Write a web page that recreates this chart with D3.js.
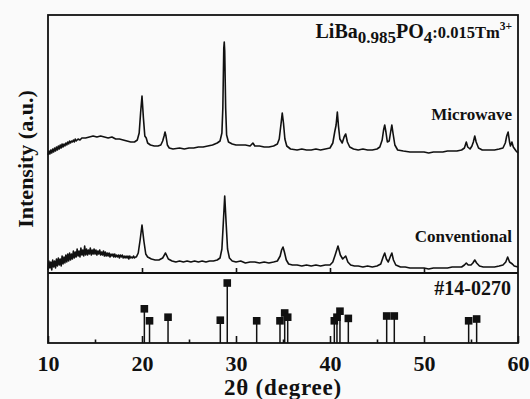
<!DOCTYPE html>
<html>
<head>
<meta charset="utf-8">
<script src="https://cdn.jsdelivr.net/npm/d3@7"></script>
<style>
  body { margin: 0; background: #fafafa; }
  svg { display: block; }
  text { font-family: "Liberation Serif", "Times New Roman", serif; font-weight: bold; fill: #111; }
</style>
</head>
<body>
<svg id="chart" width="530" height="399"></svg>
<script>
// 2θ (degree) / intensity (a.u., stacked offset)
const microwave = [
  [10.0,118],[10.1,122],[10.2,119],[10.3,123],[10.4,120],[10.5,124],[10.6,121],[10.7,125],[10.8,122],[10.9,126],
  [11.0,123],[11.1,127],[11.2,124],[11.3,128],[11.4,125],[11.5,129],[11.6,126],[11.7,129],[11.8,127],[11.9,130],
  [12.0,128],[12.1,131],[12.2,129],[12.3,132],[12.4,130],[12.5,132],[12.6,131],[12.7,133],[12.8,131],[12.9,134],
  [13.0,132],[13.2,134],[13.4,133],[13.6,135],[14.0,135],[14.4,136],
  [14.8,137],[15.2,136],[15.6,137],[16.0,136],[16.4,135],[16.8,136],[17.2,134],[17.6,134],[18.0,133],[18.4,132],
  [18.8,131],[19.2,131],[19.5,133],[19.7,140],[19.85,160],[20.0,177],[20.15,155],[20.3,137],[20.45,135],[20.6,130],
  [20.9,128],[21.3,127],[21.7,127],[22.0,128],[22.2,132],[22.35,137],[22.45,141],[22.55,137],[22.7,128],[22.9,125],
  [23.3,124],[24.0,125],[24.5,124],[25.0,125],[25.5,125],[26.0,126],[26.5,126],[27.0,127],[27.5,128],[28.0,130],
  [28.3,132],[28.5,140],[28.6,165],[28.7,225],[28.75,231],[28.8,222],[28.9,165],[29.0,138],[29.2,131],[29.6,129],
  [30.0,128],[30.5,128],[31.0,128],[31.5,127],[31.8,130],[32.0,127],[32.5,127],[33.0,126],[33.5,126],[34.0,127],
  [34.4,129],[34.6,134],[34.8,150],[34.92,160],[35.05,150],[35.2,134],[35.4,127],[35.8,124],[36.5,123],[37.0,124],
  [37.5,123],[38.0,123],[38.5,124],[39.0,123],[39.5,124],[40.0,125],[40.3,130],[40.5,141],[40.65,148],[40.78,161],
  [40.9,147],[41.05,134],[41.3,130],[41.5,136],[41.67,139],[41.85,131],[42.1,126],[42.5,124],[43.0,123],[43.5,124],
  [44.0,123],[44.5,123],[45.0,124],[45.3,126],[45.55,133],[45.7,143],[45.82,148],[45.95,141],[46.1,131],[46.3,132],
  [46.45,141],[46.58,148],[46.7,140],[46.9,128],[47.2,123],[47.8,122],[48.5,121],[49.0,121],[50.0,121],[50.5,120],
  [51.0,121],[51.5,121],[52.0,121],[52.5,122],[53.0,122],[53.5,122],[54.0,123],[54.3,125],[54.5,131],[54.65,126],
  [54.9,124],[55.1,127],[55.25,131],[55.4,137],[55.55,131],[55.8,125],[56.2,123],[56.8,123],[57.5,123],[58.0,124],
  [58.4,125],[58.65,130],[58.8,137],[58.95,141],[59.1,131],[59.2,127],[59.35,131],[59.5,126],[59.8,122],[60.0,120]
];

const conventional = [
  [10.0,3],[10.1,12],[10.2,5],[10.3,11],[10.4,3],[10.5,13],[10.6,6],[10.7,12],[10.8,5],[10.9,14],
  [11.0,7],[11.1,15],[11.2,8],[11.3,14],[11.4,7],[11.5,17],[11.6,9],[11.7,16],[11.8,10],[11.9,18],
  [12.0,11],[12.1,19],[12.2,12],[12.3,20],[12.4,13],[12.5,19],[12.6,14],[12.7,22],[12.8,15],[12.9,21],
  [13.0,16],[13.1,24],[13.2,17],[13.3,22],[13.4,16],[13.5,25],[13.6,18],[13.7,23],[13.8,17],[13.9,27],
  [14.0,18],[14.1,24],[14.2,18],[14.3,23],[14.4,19],[14.5,25],[14.6,18],[14.7,23],[14.8,19],[14.9,24],
  [15.0,19],[15.1,23],[15.2,18],[15.3,22],[15.4,19],[15.5,23],[15.6,18],[15.7,21],[15.8,18],[15.9,22],
  [16.0,17],[16.1,21],[16.2,17],[16.3,20],[16.4,17],[16.5,20],[16.6,16],[16.7,19],[16.8,17],[16.9,19],
  [17.0,16],[17.1,19],[17.2,16],[17.3,18],[17.4,16],[17.5,18],[17.6,15],[17.7,18],[17.8,16],[17.9,18],
  [18.0,15],[18.1,17],[18.2,15],[18.3,17],[18.4,15],[18.5,17],[18.6,14],[18.7,17],[18.8,15],[18.9,16],
  [19.0,15],[19.1,17],[19.2,15],[19.3,16],[19.4,16],[19.6,20],[19.8,33],
  [20.0,48],[20.2,32],[20.4,19],[20.6,16],[20.8,15],[21.0,14],[21.4,13],[21.8,13],[22.2,15],[22.5,20],
  [22.8,14],[23.2,12],[23.6,11],[24.0,12],[24.4,11],[24.8,12],[25.2,11],[25.6,12],[26.0,11],[26.4,12],
  [26.8,11],[27.2,12],[27.6,12],[28.0,13],[28.3,15],[28.5,24],[28.65,50],[28.8,77],[28.95,50],[29.1,24],
  [29.3,15],[29.6,12],[30.0,11],[30.5,12],[31.0,10],[31.5,11],[32.0,11],[32.5,10],[33.0,11],[33.5,10],
  [34.0,11],[34.4,12],[34.7,17],[34.85,23],[35.0,26],[35.15,21],[35.35,13],[35.6,9],[36.0,8],[36.5,8],
  [37.0,7],[37.5,8],[38.0,7],[38.5,8],[39.0,7],[39.5,8],[40.0,8],[40.3,11],[40.55,18],[40.85,27],
  [41.1,18],[41.35,14],[41.67,17],[41.9,11],[42.2,8],[42.6,7],[43.0,7],[43.5,6],[44.0,7],[44.5,6],
  [45.0,7],[45.4,9],[45.65,16],[45.82,20],[46.0,14],[46.2,11],[46.4,16],[46.58,20],[46.75,13],[47.0,8],
  [47.5,6],[48.0,6],[48.5,5],[49.0,5],[49.5,5],[50.0,5],[50.5,4],[51.0,5],[51.5,5],[52.0,5],
  [52.5,5],[53.0,6],[53.5,6],[54.0,6],[54.3,8],[54.5,10],[54.7,8],[55.0,8],[55.2,10],[55.4,13],
  [55.6,10],[55.9,7],[56.3,6],[57.0,6],[57.5,6],[58.0,7],[58.4,8],[58.7,11],[58.9,16],[59.1,11],
  [59.4,9],[59.6,7],[60.0,6]
];

// JCPDS #14-0270 reference lines
const refPos = [20.25, 20.8, 22.77, 28.33, 29.07, 32.2, 34.68, 35.18, 35.5, 40.46, 40.74, 41.06, 41.95, 46.03, 46.84, 54.75, 55.6];
const refInt = [57, 37, 43, 38, 100, 37, 37, 50, 43, 37, 43, 53, 41, 45, 45, 37, 40];

const majorTicks = [10, 20, 30, 40, 50, 60];
const minorTicks = [15, 25, 35, 45, 55];

const svg = d3.select('#chart');
const frame = { left: 48, right: 518, top: 15, mid: 273, bottom: 343 };

const x = d3.scaleLinear().domain([10, 60]).range([frame.left, frame.right]);
const y = d3.scaleLinear().domain([0, 258]).range([frame.mid, frame.top]);
const yRef = d3.scaleLinear().domain([0, 100]).range([frame.bottom, 283]);

const line = d3.line()
  .x(d => x(d[0]))
  .y(d => y(d[1]));

[microwave, conventional].forEach(series => {
  svg.append('path')
    .datum(series)
    .attr('d', line)
    .attr('fill', 'none')
    .attr('stroke', '#111')
    .attr('stroke-width', 1.6)
    .attr('stroke-linejoin', 'round');
});

// reference stems
const ref = refPos.map((p, i) => ({ pos: p, val: refInt[i] }));
svg.append('g')
  .selectAll('line')
  .data(ref)
  .enter().append('line')
  .attr('x1', d => x(d.pos))
  .attr('x2', d => x(d.pos))
  .attr('y1', frame.bottom)
  .attr('y2', d => yRef(d.val))
  .attr('stroke', '#111')
  .attr('stroke-width', 1.5);

svg.append('g')
  .selectAll('rect')
  .data(ref)
  .enter().append('rect')
  .attr('x', d => x(d.pos) - 3.8)
  .attr('y', d => yRef(d.val) - 3.8)
  .attr('width', 7.6)
  .attr('height', 7.6)
  .attr('fill', '#111');

// frame + divider
svg.append('rect')
  .attr('x', frame.left).attr('y', frame.top)
  .attr('width', frame.right - frame.left).attr('height', frame.bottom - frame.top)
  .attr('fill', 'none')
  .attr('stroke', '#111')
  .attr('stroke-width', 1.8);

svg.append('line')
  .attr('x1', frame.left).attr('x2', frame.right)
  .attr('y1', frame.mid).attr('y2', frame.mid)
  .attr('stroke', '#111')
  .attr('stroke-width', 2);

// axes
const xAxis = svg.append('g')
  .attr('transform', `translate(0,${frame.bottom})`)
  .call(d3.axisBottom(x).tickValues(majorTicks).tickSize(-7).tickPadding(12).tickFormat(d3.format('d')));
xAxis.select('.domain').remove();
xAxis.selectAll('line').attr('stroke', '#111').attr('stroke-width', 1.6);
xAxis.selectAll('text').attr('font-size', 22).attr('fill', '#111')
  .style('font-family', '"Liberation Serif", serif').style('font-weight', 'bold');

const xMinor = svg.append('g')
  .attr('transform', `translate(0,${frame.bottom})`)
  .call(d3.axisBottom(x).tickValues(minorTicks).tickSize(-3.5).tickFormat(''));
xMinor.select('.domain').remove();
xMinor.selectAll('line').attr('stroke', '#111').attr('stroke-width', 1.6);

const midAxis = svg.append('g')
  .attr('transform', `translate(0,${frame.mid})`)
  .call(d3.axisBottom(x).tickValues([20, 30, 40, 50]).tickSize(-5).tickFormat(''));
midAxis.select('.domain').remove();
midAxis.selectAll('line').attr('stroke', '#111').attr('stroke-width', 1.6);

// labels
svg.append('text')
  .attr('x', (frame.left + frame.right) / 2)
  .attr('y', 395)
  .attr('text-anchor', 'middle')
  .attr('font-size', 23)
  .attr('letter-spacing', 0.8)
  .text('2θ (degree)');

svg.append('text')
  .attr('transform', 'translate(33,159) rotate(-90)')
  .attr('text-anchor', 'middle')
  .attr('font-size', 22)
  .text('Intensity (a.u.)');

const title = svg.append('text')
  .attr('x', 512)
  .attr('y', 38)
  .attr('text-anchor', 'end')
  .attr('font-size', 20);
title.append('tspan').text('LiBa');
title.append('tspan').attr('font-size', 17).attr('dy', 5).text('0.985');
title.append('tspan').attr('dy', -5).text('PO');
title.append('tspan').attr('font-size', 17).attr('dy', 5).text('4');
title.append('tspan').attr('font-size', 16.5).attr('dy', -5).text(':0.015Tm');
title.append('tspan').attr('font-size', 11.5).attr('dy', -8).text('3+');

svg.append('text')
  .attr('x', 512).attr('y', 120)
  .attr('text-anchor', 'end')
  .attr('font-size', 17)
  .text('Microwave');

svg.append('text')
  .attr('x', 512).attr('y', 242)
  .attr('text-anchor', 'end')
  .attr('font-size', 17)
  .text('Conventional');

svg.append('text')
  .attr('x', 511).attr('y', 295)
  .attr('text-anchor', 'end')
  .attr('font-size', 20)
  .text('#14-0270');
</script>
</body>
</html>
